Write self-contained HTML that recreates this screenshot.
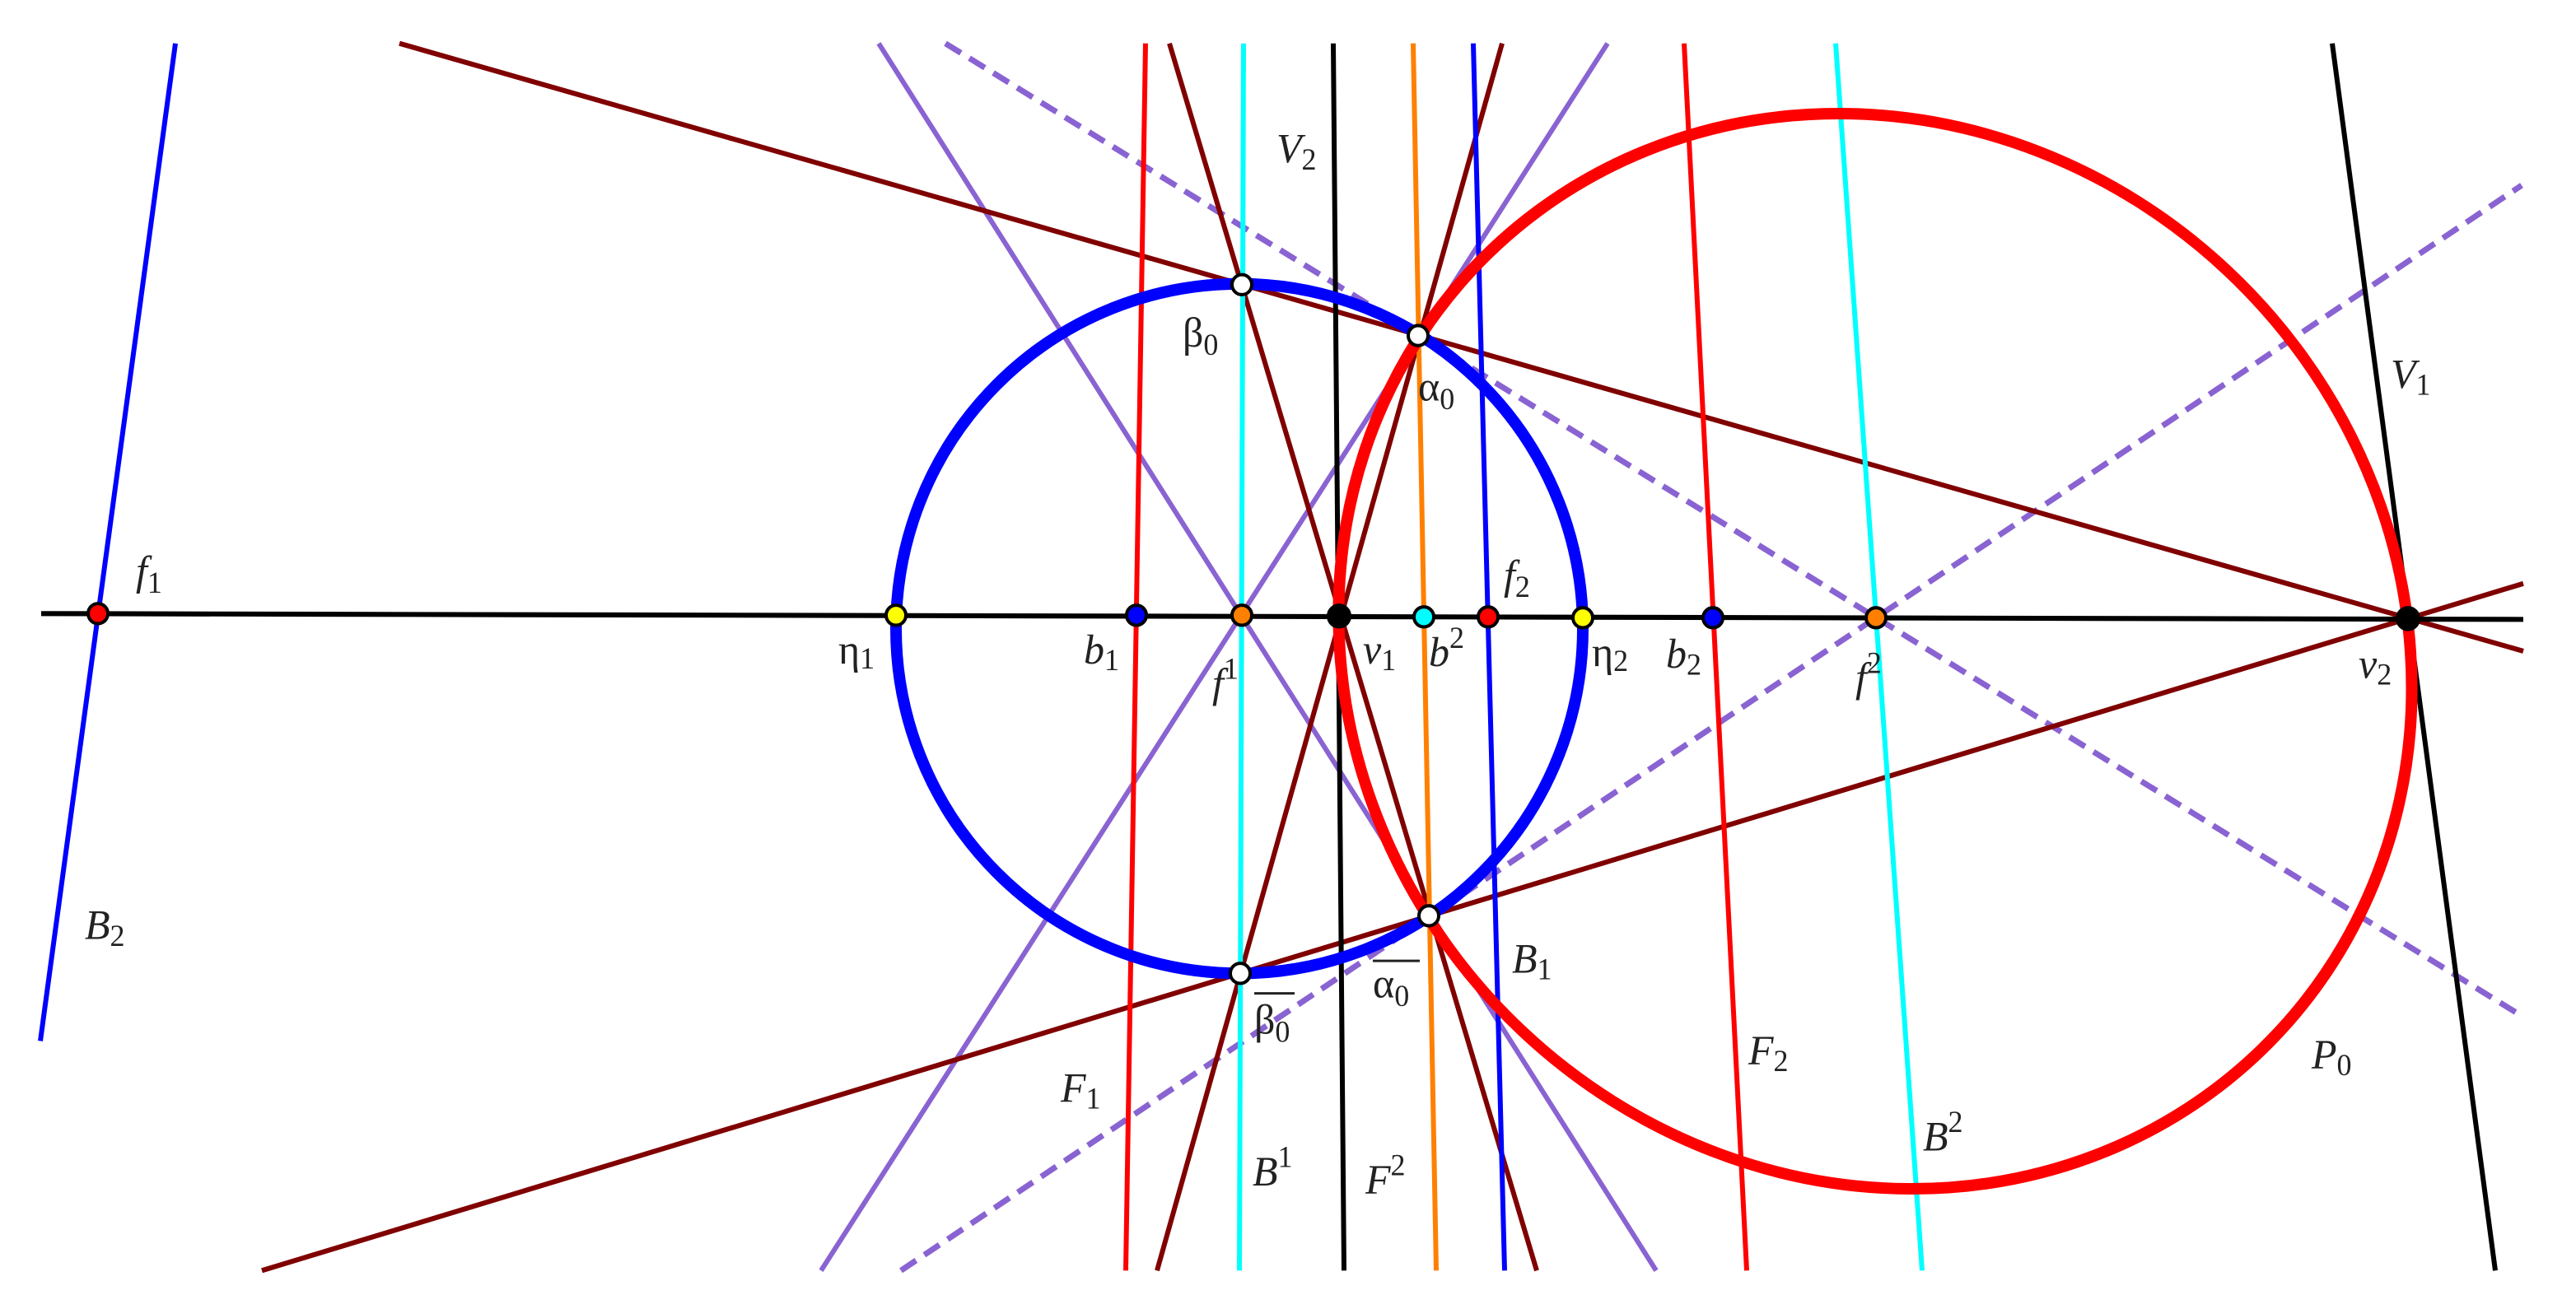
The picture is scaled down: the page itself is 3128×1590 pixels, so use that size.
<!DOCTYPE html>
<html><head><meta charset="utf-8"><style>
html,body{margin:0;padding:0;background:#fff;}
svg{display:block;}
text{font-family:"Liberation Serif",serif;fill:#222;}
.it{font-style:italic;}
</style></head><body>
<svg id="s" width="3128" height="1590" viewBox="0 0 3128 1590" xmlns="http://www.w3.org/2000/svg">
<g transform="matrix(1,0,0,1.014,0,0)">
<g stroke-linecap="butt" fill="none">
<line x1="1067" y1="52" x2="2011" y2="1522" stroke="#8a63d2" stroke-width="6"/>
<line x1="997" y1="1522" x2="1952" y2="52" stroke="#8a63d2" stroke-width="6"/>
<line x1="1148" y1="52" x2="3062" y2="1217" stroke="#8a63d2" stroke-width="7" stroke-dasharray="22,12"/>
<line x1="1094" y1="1522" x2="3062" y2="222" stroke="#8a63d2" stroke-width="7" stroke-dasharray="22,12"/>
<line x1="485" y1="52" x2="3064" y2="780" stroke="#800000" stroke-width="6"/>
<line x1="318" y1="1522" x2="3064" y2="699" stroke="#800000" stroke-width="6"/>
<line x1="1420" y1="52" x2="1866" y2="1522" stroke="#800000" stroke-width="6"/>
<line x1="1824" y1="52" x2="1405" y2="1522" stroke="#800000" stroke-width="6"/>
<line x1="213" y1="52" x2="49" y2="1247" stroke="#0000ff" stroke-width="6"/>
<line x1="1391" y1="52" x2="1367" y2="1522" stroke="#ff0000" stroke-width="6"/>
<line x1="1510" y1="52" x2="1505" y2="1522" stroke="#00ffff" stroke-width="6"/>
<line x1="1619" y1="52" x2="1632" y2="1522" stroke="#000" stroke-width="6"/>
<line x1="1716" y1="52" x2="1744" y2="1522" stroke="#ff8000" stroke-width="6"/>
<line x1="1789" y1="52" x2="1827" y2="1522" stroke="#0000ff" stroke-width="6"/>
<line x1="2045" y1="52" x2="2121" y2="1522" stroke="#ff0000" stroke-width="6"/>
<line x1="2229" y1="52" x2="2334" y2="1522" stroke="#00ffff" stroke-width="6"/>
<line x1="2832" y1="52" x2="3030" y2="1522" stroke="#000" stroke-width="6"/>
<line x1="50" y1="735" x2="3064" y2="742" stroke="#000" stroke-width="6"/>
<ellipse cx="1505" cy="753" rx="417" ry="413" stroke="#0000ff" stroke-width="14"/>
</g>
</g>
<ellipse cx="2277" cy="791" rx="650" ry="653" fill="none" stroke="#ff0000" stroke-width="14" transform="matrix(1,0,0.068,1,-53.8,0)"/>
<g transform="matrix(1,0,0,1.014,0,0)">
<g stroke="#000" stroke-width="4">
<circle cx="119" cy="735" r="12" fill="#ff0000"/>
<circle cx="1088" cy="737" r="12" fill="#ffff00"/>
<circle cx="1380" cy="737" r="12" fill="#0000ff"/>
<circle cx="1508" cy="737" r="12" fill="#ff8000"/>
<circle cx="1626" cy="738" r="13" fill="#000"/>
<circle cx="1729" cy="739" r="12" fill="#00ffff"/>
<circle cx="1807" cy="739" r="12" fill="#ff0000"/>
<circle cx="1922" cy="740" r="12" fill="#ffff00"/>
<circle cx="2080" cy="740" r="12" fill="#0000ff"/>
<circle cx="2278" cy="740" r="12" fill="#ff8000"/>
<circle cx="2924" cy="741" r="13" fill="#000"/>
<circle cx="1508" cy="341" r="12" fill="#fff"/>
<circle cx="1722" cy="402" r="12" fill="#fff"/>
<circle cx="1735" cy="1097" r="12" fill="#fff"/>
<circle cx="1506" cy="1166" r="12" fill="#fff"/>
</g>
<g font-size="50">
<text x="165" y="700" class="it">f<tspan font-size="36" dy="10" font-style="normal">1</tspan></text>
<text x="1018" y="795">η<tspan font-size="36" dy="6">1</tspan></text>
<text x="1316" y="795" class="it">b<tspan font-size="36" dy="8" font-style="normal">1</tspan></text>
<text x="1472" y="835" class="it">f<tspan font-size="36" dy="-22" font-style="normal">1</tspan></text>
<text x="1436" y="415">β<tspan font-size="36" dy="10">0</tspan></text>
<text x="1523" y="1238">β<tspan font-size="36" dy="10">0</tspan></text>
<line x1="1523" y1="1190" x2="1572" y2="1190" stroke="#222" stroke-width="3"/>
<text x="1288" y="1320" class="it">F<tspan font-size="36" dy="8" font-style="normal">1</tspan></text>
<text x="1521" y="1420" class="it">B<tspan font-size="36" dy="-22" font-style="normal">1</tspan></text>
<text x="103" y="1125" class="it">B<tspan font-size="36" dy="8" font-style="normal">2</tspan></text>
<text x="1550" y="195" class="it">V<tspan font-size="36" dy="8" font-style="normal">2</tspan></text>
<text x="1655" y="795" class="it">v<tspan font-size="36" dy="8" font-style="normal">1</tspan></text>
<text x="1735" y="798" class="it">b<tspan font-size="36" dy="-22" font-style="normal">2</tspan></text>
<text x="1826" y="705" class="it">f<tspan font-size="36" dy="10" font-style="normal">2</tspan></text>
<text x="1933" y="798">η<tspan font-size="36" dy="6">2</tspan></text>
<text x="2023" y="800" class="it">b<tspan font-size="36" dy="8" font-style="normal">2</tspan></text>
<text x="2253" y="828" class="it">f<tspan font-size="36" dy="-22" font-style="normal">2</tspan></text>
<text x="1722" y="480">α<tspan font-size="36" dy="10">0</tspan></text>
<text x="1667" y="1195">α<tspan font-size="36" dy="10">0</tspan></text>
<line x1="1667" y1="1151" x2="1724" y2="1151" stroke="#222" stroke-width="3"/>
<text x="1836" y="1165" class="it">B<tspan font-size="36" dy="8" font-style="normal">1</tspan></text>
<text x="2123" y="1275" class="it">F<tspan font-size="36" dy="8" font-style="normal">2</tspan></text>
<text x="1658" y="1430" class="it">F<tspan font-size="36" dy="-22" font-style="normal">2</tspan></text>
<text x="2335" y="1378" class="it">B<tspan font-size="36" dy="-22" font-style="normal">2</tspan></text>
<text x="2807" y="1280" class="it">P<tspan font-size="36" dy="8" font-style="normal">0</tspan></text>
<text x="2903" y="465" class="it">V<tspan font-size="36" dy="8" font-style="normal">1</tspan></text>
<text x="2864" y="812" class="it">v<tspan font-size="36" dy="8" font-style="normal">2</tspan></text>
</g>
</g>
</svg>
</body></html>
